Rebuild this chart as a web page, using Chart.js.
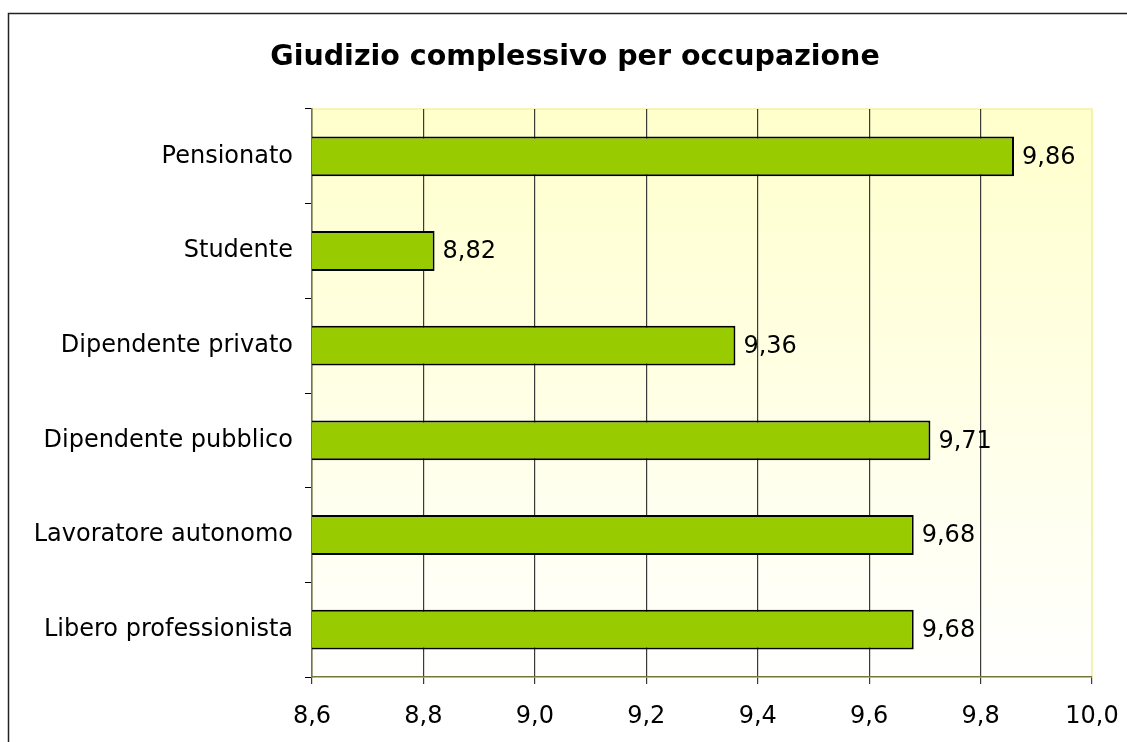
<!DOCTYPE html>
<html>
<head>
<meta charset="utf-8">
<script src="https://cdn.jsdelivr.net/npm/chart.js"></script>
<style>
  html, body { margin: 0; padding: 0; background: #fff; }
  #wrap { width: 1127px; height: 742px; position: relative; }
</style>
</head>
<body>
<div id="wrap"><canvas id="chart"></canvas></div>
<script>
const categories = [
    "Pensionato",
    "Studente",
    "Dipendente privato",
    "Dipendente pubblico",
    "Lavoratore autonomo",
    "Libero professionista"
];
const values = [9.86, 8.82, 9.36, 9.71, 9.68, 9.68];
const xMin = 8.6;
const xMax = 10.0;
const xStep = 0.2;
const chartTitle = "Giudizio complessivo per occupazione";

const FONT = '"DejaVu Sans", Verdana, sans-serif';
const fmt = v => Number(v).toFixed(1).replace('.', ',');
const fmt2 = v => Number(v).toFixed(2).replace('.', ',');

// sfondo dell'area del grafico, cornice esterna e titolo
const backdrop = {
    id: 'backdrop',
    beforeDraw(chart) {
        const {ctx, chartArea: a} = chart;
        ctx.save();
        const g = ctx.createLinearGradient(0, a.top, 0, a.bottom);
        g.addColorStop(0, '#FFFFCC');
        g.addColorStop(1, '#FFFFFF');
        ctx.fillStyle = g;
        ctx.fillRect(a.left, a.top, a.right - a.left, a.bottom - a.top);
        ctx.strokeStyle = '#F2F2A0';
        ctx.lineWidth = 1.5;
        ctx.beginPath();
        ctx.moveTo(a.left, a.top);
        ctx.lineTo(a.right, a.top);
        ctx.lineTo(a.right, a.bottom);
        ctx.stroke();
        // cornice
        ctx.strokeStyle = '#222';
        ctx.lineWidth = 1.5;
        ctx.beginPath();
        ctx.moveTo(8.5, chart.height + 5);
        ctx.lineTo(8.5, 13.5);
        ctx.lineTo(chart.width + 5, 13.5);
        ctx.stroke();
        // titolo (centrato sulla cornice, come in Excel)
        ctx.font = 'bold 28.5px ' + FONT;
        ctx.fillStyle = '#000';
        ctx.textAlign = 'center';
        ctx.textBaseline = 'middle';
        ctx.fillText(chartTitle, 575, 58);
        ctx.restore();
    }
};

// etichette dei valori a destra delle barre
const valueLabels = {
    id: 'valueLabels',
    afterDatasetsDraw(chart) {
        const {ctx} = chart;
        const meta = chart.getDatasetMeta(0);
        ctx.save();
        ctx.font = '24px ' + FONT;
        ctx.fillStyle = '#000';
        ctx.textAlign = 'left';
        ctx.textBaseline = 'middle';
        meta.data.forEach((bar, i) => {
            ctx.fillText(fmt2(values[i]), bar.x + 8, bar.y + 1);
        });
        ctx.restore();
    }
};

new Chart(document.getElementById('chart'), {
    type: 'bar',
    data: {
        labels: categories,
        datasets: [{
            data: values,
            backgroundColor: '#99CC00',
            borderColor: '#000',
            borderWidth: 2,
            borderSkipped: false,
            categoryPercentage: 1,
            barPercentage: 0.42
        }]
    },
    options: {
        indexAxis: 'y',
        responsive: true,
        maintainAspectRatio: false,
        animation: false,
        layout: { padding: { left: 0, right: 35, top: 109, bottom: 0 } },
        plugins: {
            legend: { display: false },
            tooltip: { enabled: false },
            title: { display: false }
        },
        scales: {
            x: {
                min: xMin,
                max: xMax,
                ticks: {
                    stepSize: xStep,
                    color: '#000',
                    padding: 18,
                    font: { family: FONT, size: 24 },
                    callback: v => fmt(v)
                },
                grid: {
                    color: c => (c.tick && Math.abs(c.tick.value - xMax) < 1e-6) ? '#F2F2A0' : '#3a3a3a',
                    tickColor: '#3a3a3a',
                    lineWidth: 1.2,
                    tickLength: 7
                },
                border: { color: '#77773A', width: 1.5 },
                afterFit: s => { s.height = 65; s.paddingLeft = 0; s.paddingRight = 0; }
            },
            y: {
                offset: true,
                ticks: {
                    color: '#000',
                    padding: 12,
                    font: { family: FONT, size: 24 }
                },
                grid: { offset: true, drawOnChartArea: false, drawTicks: true, tickLength: 7, color: '#000' },
                border: { color: '#77773A', width: 1.5 },
                afterFit: s => { s.width = 312; }
            }
        }
    },
    plugins: [backdrop, valueLabels]
});
</script>
</body>
</html>
